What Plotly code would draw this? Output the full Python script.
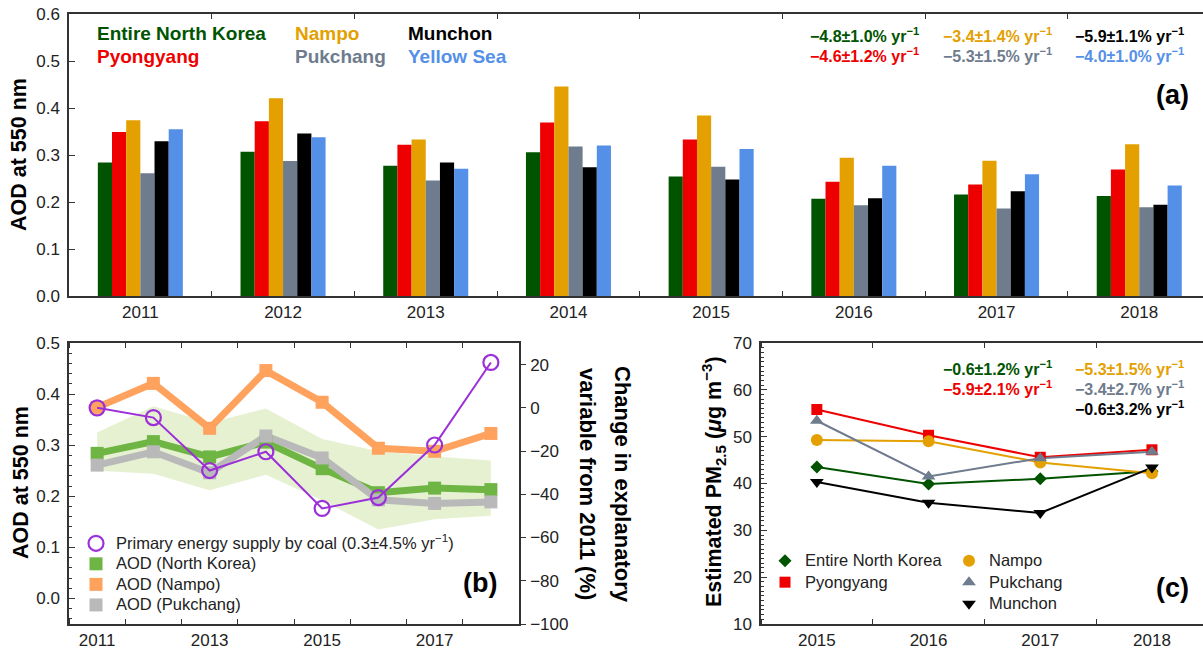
import plotly.graph_objects as go

# ---------------------------------------------------------------- data
years = [2011, 2012, 2013, 2014, 2015, 2016, 2017, 2018]
year_labels = [str(y) for y in years]

# annual mean AOD at 550 nm
aod_north_korea = [0.284, 0.307, 0.277, 0.306, 0.254, 0.207, 0.216, 0.213]
aod_pyongyang = [0.349, 0.372, 0.322, 0.369, 0.333, 0.243, 0.237, 0.269]
aod_nampo = [0.374, 0.421, 0.333, 0.446, 0.384, 0.294, 0.288, 0.323]
aod_pukchang = [0.261, 0.287, 0.246, 0.318, 0.275, 0.193, 0.186, 0.189]
aod_munchon = [0.329, 0.346, 0.284, 0.274, 0.248, 0.208, 0.223, 0.194]
aod_yellow_sea = [0.355, 0.338, 0.271, 0.320, 0.313, 0.277, 0.259, 0.235]

# spread of AOD over North Korea
nk_band_upper = [0.325, 0.376, 0.344, 0.372, 0.312, 0.288, 0.278, 0.270]
nk_band_lower = [0.250, 0.244, 0.212, 0.242, 0.192, 0.135, 0.155, 0.162]

# primary energy supply by coal, change from 2011 (%)
coal_change = [0.0, -4.5, -29.0, -20.3, -46.5, -41.5, -17.2, 21.0]

# estimated surface PM2.5 (ug m-3)
pm_years = [2015, 2016, 2017, 2018]
pm_north_korea = [43.5, 39.9, 41.0, 42.6]
pm_pyongyang = [55.8, 50.3, 45.6, 47.2]
pm_nampo = [49.3, 49.0, 44.5, 42.2]
pm_pukchang = [53.4, 41.5, 45.4, 46.8]
pm_munchon = [40.3, 35.9, 33.7, 43.4]

region_names = ["Entire North Korea", "Pyongyang", "Nampo", "Pukchang", "Munchon", "Yellow Sea"]
aod_trends = ["−4.8±1.0%", "−4.6±1.2%", "−3.4±1.4%", "−5.3±1.5%", "−5.9±1.1%", "−4.0±1.0%"]
pm_trends = ["−0.6±1.2%", "−5.9±2.1%", "−5.3±1.5%", "−3.4±2.7%", "−0.6±3.2%"]
coal_trend = "0.3±4.5%"

# ---------------------------------------------------------------- style
W, H = 1203, 651
FONT = "Liberation Sans, Arial, Helvetica, sans-serif"
AX = "#333333"

C_GREEN = "#005400"
C_RED = "#ee0000"
C_ORANGE = "#e3a000"
C_GRAY = "#6e7c8e"
C_BLACK = "#000000"
C_BLUE = "#5590e8"
bar_colors = [C_GREEN, C_RED, C_ORANGE, C_GRAY, C_BLACK, C_BLUE]

L_GREEN = "#6fb544"
L_ORANGE = "#ffa25e"
L_GRAY = "#b9b9b9"
PURPLE = "#9b30d8"


def fx(p):
    return p / W


def fy(p):
    return 1 - p / H


def legend_text(text, size=16.5):
    return f'<span style="font-size:{size}px">{text}</span>'


# panel frames in pixels
A_LEFT, A_TOP, A_BOT = 69, 14, 296
LOW_TOP, LOW_BOT = 343, 624
B_LEFT, B_RIGHT = 69, 519
C_LEFT = 761
A_CAT = 142.7      # px per year in panel (a)
C_YEAR = 111.7     # px per year in panel (c)

fig = go.Figure()

# ---------------------------------------------------------------- (a) bars
series_a = [aod_north_korea, aod_pyongyang, aod_nampo, aod_pukchang, aod_munchon, aod_yellow_sea]
for name, vals, col in zip(region_names, series_a, bar_colors):
    fig.add_trace(go.Bar(x=year_labels, y=vals, name=name, marker=dict(color=col, line=dict(width=0)),
                         xaxis="x", yaxis="y", showlegend=False))

# ---------------------------------------------------------------- (b) lines
fig.add_trace(go.Scatter(x=years, y=nk_band_upper, mode="lines", line=dict(width=0),
                         xaxis="x2", yaxis="y2", showlegend=False, hoverinfo="skip"))
fig.add_trace(go.Scatter(x=years, y=nk_band_lower, mode="lines", line=dict(width=0),
                         fill="tonexty", fillcolor="rgba(200,224,156,0.45)",
                         xaxis="x2", yaxis="y2", showlegend=False, hoverinfo="skip"))

aod_lines = [(aod_north_korea, L_GREEN, "AOD (North Korea)", 2),
             (aod_pukchang, L_GRAY, "AOD (Pukchang)", 4),
             (aod_nampo, L_ORANGE, "AOD (Nampo)", 3)]
for vals, col, nm, rank in aod_lines:
    fig.add_trace(go.Scatter(x=years, y=vals, mode="lines", line=dict(color=col, width=7),
                             xaxis="x2", yaxis="y2", showlegend=False))
for vals, col, nm, rank in aod_lines:
    fig.add_trace(go.Scatter(x=years, y=vals, mode="markers", name=legend_text(nm), legendrank=rank,
                             marker=dict(symbol="square", size=13, color=col),
                             xaxis="x2", yaxis="y2", legend="legend"))

fig.add_trace(go.Scatter(x=years, y=coal_change, mode="lines", line=dict(color=PURPLE, width=2),
                         xaxis="x2", yaxis="y3", showlegend=False))
fig.add_trace(go.Scatter(x=years, y=coal_change, mode="markers", legendrank=1,
                         name=legend_text(f"Primary energy supply by coal ({coal_trend} yr<sup>−1</sup>)"),
                         marker=dict(symbol="circle-open", size=15, color=PURPLE, line=dict(width=2.2)),
                         xaxis="x2", yaxis="y3", legend="legend"))

# ---------------------------------------------------------------- (c) PM2.5
pm_series = [
    ("Entire North Korea", pm_north_korea, C_GREEN, "diamond", 10, "legend2"),
    ("Pyongyang", pm_pyongyang, C_RED, "square", 11, "legend2"),
    ("Nampo", pm_nampo, C_ORANGE, "circle", 12, "legend3"),
    ("Pukchang", pm_pukchang, C_GRAY, "triangle-up", 12, "legend3"),
    ("Munchon", pm_munchon, C_BLACK, "triangle-down", 12, "legend3"),
]
for nm, vals, col, sym, sz, lg in pm_series:
    fig.add_trace(go.Scatter(x=pm_years, y=vals, mode="lines", line=dict(color=col, width=2),
                             xaxis="x3", yaxis="y4", showlegend=False))
for nm, vals, col, sym, sz, lg in pm_series:
    fig.add_trace(go.Scatter(x=pm_years, y=vals, mode="markers", name=legend_text(nm),
                             marker=dict(symbol=sym, size=sz, color=col),
                             xaxis="x3", yaxis="y4", legend=lg))

# ---------------------------------------------------------------- axes
tickfont = dict(family=FONT, size=17, color="#222222")
base = dict(showline=True, linecolor=AX, linewidth=1.5, showgrid=False, zeroline=False,
            tickcolor=AX, tickfont=tickfont)

a_xmax = -0.5 + (W - A_LEFT) / A_CAT
c_xmax = 2014.5 + (W - C_LEFT) / C_YEAR

fig.update_layout(
    xaxis=dict(base, domain=[fx(A_LEFT), 1], anchor="y", type="category", range=[-0.5, a_xmax],
               tickson="boundaries", ticks="inside", ticklen=5, mirror="ticks", ticklabelstandoff=0),
    yaxis=dict(base, domain=[fy(A_BOT), fy(A_TOP)], anchor="x", range=[0, 0.6], tickvals=[0, 0.1, 0.2, 0.3, 0.4, 0.5, 0.6],
               tickformat=".1f", ticks="inside", ticklen=6, ticklabelstandoff=4),
    yaxis5=dict(overlaying="y", side="right", anchor="x", range=[0, 0.6], tickvals=[0.1, 0.2, 0.3, 0.4, 0.5],
                ticks="inside", ticklen=6, tickcolor=AX, showticklabels=False, showline=False,
                showgrid=False, zeroline=False),

    xaxis2=dict(base, domain=[fx(B_LEFT), fx(B_RIGHT)], anchor="y2", range=[2010.5, 2018.5],
                tickvals=[2011, 2013, 2015, 2017], ticks="", mirror="ticks", ticklabelstandoff=0,
                minor=dict(tick0=2011.5, dtick=1, ticks="inside", ticklen=5, tickcolor=AX)),
    yaxis2=dict(base, domain=[fy(LOW_BOT), fy(LOW_TOP)], anchor="x2", range=[-0.05, 0.5],
                tickvals=[0, 0.1, 0.2, 0.3, 0.4, 0.5], tickformat=".1f", ticks="inside", ticklen=6,
                ticklabelstandoff=4,
                minor=dict(dtick=0.02, ticks="inside", ticklen=3, tickcolor=AX)),
    yaxis3=dict(base, overlaying="y2", side="right", anchor="x2", range=[-100, 30],
                tickvals=[-100, -80, -60, -40, -20, 0, 20], ticks="outside", ticklen=5,
                ticklabelstandoff=1),

    xaxis3=dict(base, domain=[fx(C_LEFT), 1], anchor="y4", range=[2014.5, c_xmax],
                tickvals=pm_years, ticks="", mirror="ticks", ticklabelstandoff=0,
                minor=dict(tick0=2015.5, dtick=1, ticks="inside", ticklen=5, tickcolor=AX)),
    yaxis4=dict(base, domain=[fy(LOW_BOT), fy(LOW_TOP)], anchor="x3", range=[10, 70], dtick=10,
                ticks="inside", ticklen=6, ticklabelstandoff=4,
                minor=dict(dtick=1, ticks="inside", ticklen=3, tickcolor=AX)),
    yaxis6=dict(overlaying="y4", side="right", anchor="x3", range=[10, 70], tickvals=[20, 30, 40, 50, 60],
                ticks="inside", ticklen=6, tickcolor=AX, showticklabels=False, showline=False,
                showgrid=False, zeroline=False),
)

# ---------------------------------------------------------------- legends
legend_common = dict(xanchor="left", yanchor="top", bgcolor="rgba(0,0,0,0)", traceorder="normal",
                     tracegroupgap=0, itemclick=False, itemdoubleclick=False, borderwidth=0)
fig.update_layout(
    legend=dict(legend_common, x=fx(76), y=fy(528), font=dict(family=FONT, size=13.5, color="#222222")),
    legend2=dict(legend_common, x=fx(765), y=fy(545), font=dict(family=FONT, size=14.2, color="#222222")),
    legend3=dict(legend_common, x=fx(949), y=fy(545), font=dict(family=FONT, size=14.2, color="#222222")),
)

# ---------------------------------------------------------------- text
annotations = []


def label(text, x, y, size, color="#000000", xanchor="left", yanchor="middle", angle=0, bold=True):
    annotations.append(dict(
        text=f"<b>{text}</b>" if bold else text, x=fx(x), y=fy(y), xref="paper", yref="paper",
        xanchor=xanchor, yanchor=yanchor, textangle=angle, showarrow=False,
        font=dict(family=FONT, size=size, color=color)))


# (a) region key and trends
key_cols = [95, 95, 293, 293, 406, 406]
key_rows = [33, 57, 33, 57, 33, 57]
for nm, col, kx, ky in zip(region_names, bar_colors, key_cols, key_rows):
    label(nm, kx, ky, 19, col)
trend_cols = [808, 808, 941, 941, 1073, 1073]
trend_rows = [35, 55, 35, 55, 35, 55]
for tr, col, tx, ty in zip(aod_trends, bar_colors, trend_cols, trend_rows):
    label(f"{tr} yr<sup>−1</sup>", tx, ty, 16, col)

# (c) trends
pm_colors = [C_GREEN, C_RED, C_ORANGE, C_GRAY, C_BLACK]
pm_tcols = [941, 941, 1073, 1073, 1073]
pm_trows = [368, 388, 368, 388, 408]
for tr, col, tx, ty in zip(pm_trends, pm_colors, pm_tcols, pm_trows):
    label(f"{tr} yr<sup>−1</sup>", tx, ty, 16, col)

# panel letters
label("(a)", 1172, 95, 27, xanchor="center")
label("(b)", 480, 583, 27, xanchor="center")
label("(c)", 1172, 588, 27, xanchor="center")

# axis titles
label("AOD at 550 nm", 19, 155, 21.5, xanchor="center", angle=-90)
label("AOD at 550 nm", 21, 483, 21.5, xanchor="center", angle=-90)
label("Change in explanatory", 623, 484, 22, xanchor="center", angle=90)
label("variable from 2011 (%)", 588, 484, 22, xanchor="center", angle=90)
label("Estimated PM<sub>2.5</sub> (<i>μ</i>g m<sup>−3</sup>)", 713, 482, 21.5, xanchor="center", angle=-90)

fig.update_layout(
    width=W, height=H, margin=dict(l=0, r=0, t=0, b=0, autoexpand=False),
    paper_bgcolor="white", plot_bgcolor="white",
    barmode="group", bargap=0.404, bargroupgap=0,
    font=dict(family=FONT, color="#222222"),
    annotations=annotations,
)

fig.write_html("out.html")
